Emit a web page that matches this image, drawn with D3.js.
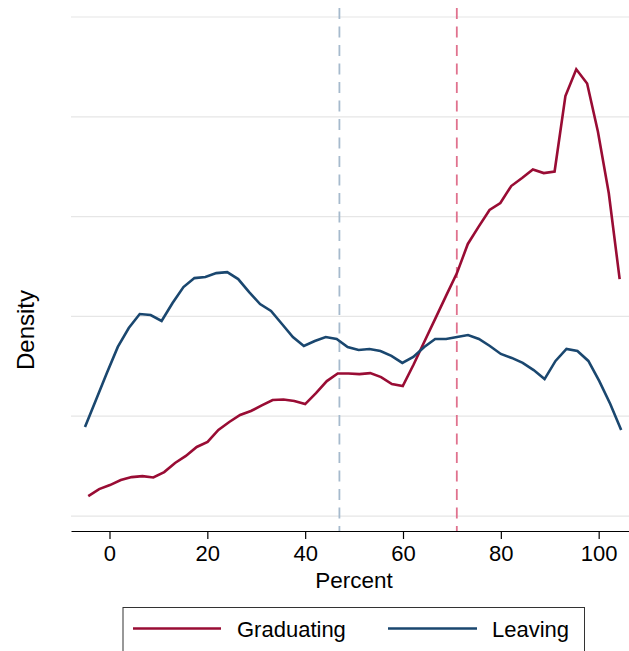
<!DOCTYPE html>
<html>
<head>
<meta charset="utf-8">
<script src="https://cdn.jsdelivr.net/npm/d3@7"></script>
<style>
  html, body { margin: 0; padding: 0; background: #fff; }
  svg { display: block; font-family: "Liberation Sans", Arial, Helvetica, sans-serif; }
</style>
</head>
<body>
<svg id="chart" width="629" height="651"></svg>
<script>
// ---- Data ----
const seriesNames = ["Graduating", "Leaving"];

const percentGraduating = [-4.34, -2.12, 0.09, 2.31, 4.53, 6.74, 8.96, 11.18, 13.40, 15.61,
  17.83, 20.05, 22.26, 24.48, 26.70, 28.91, 31.13, 33.35, 35.56, 37.78,
  40.00, 42.21, 44.43, 46.65, 48.87, 51.08, 53.30, 55.52, 57.73, 59.95,
  62.17, 64.38, 66.60, 68.82, 71.03, 73.25, 75.47, 77.69, 79.90, 82.12,
  84.34, 86.55, 88.77, 90.99, 93.20, 95.42, 97.64, 99.85, 102.07, 104.29];
const densityGraduating = [0.00100, 0.00135, 0.00155, 0.00180, 0.00195, 0.00200, 0.00193, 0.00220, 0.00266, 0.00301,
  0.00346, 0.00371, 0.00431, 0.00471, 0.00506, 0.00526, 0.00554, 0.00581, 0.00584, 0.00576,
  0.00561, 0.00616, 0.00676, 0.00714, 0.00714, 0.00711, 0.00716, 0.00696, 0.00661, 0.00651,
  0.00759, 0.00874, 0.00989, 0.01104, 0.01217, 0.01363, 0.01450, 0.01533, 0.01568, 0.01653,
  0.01693, 0.01736, 0.01718, 0.01726, 0.02104, 0.02238, 0.02167, 0.01925, 0.01617, 0.01187];

const percentLeaving = [-5.01, -2.77, -0.54, 1.70, 3.94, 6.18, 8.41, 10.65, 12.89, 15.12,
  17.36, 19.60, 21.83, 24.07, 26.31, 28.55, 30.78, 33.02, 35.26, 37.49,
  39.73, 41.97, 44.20, 46.44, 48.68, 50.92, 53.15, 55.39, 57.63, 59.86,
  62.10, 64.34, 66.57, 68.81, 71.05, 73.29, 75.52, 77.76, 80.00, 82.23,
  84.47, 86.71, 88.94, 91.18, 93.42, 95.66, 97.89, 100.13, 102.37, 104.60];
const densityLeaving = [0.00446, 0.00581, 0.00716, 0.00847, 0.00942, 0.01012, 0.01007, 0.00977, 0.01067, 0.01147,
  0.01192, 0.01197, 0.01217, 0.01222, 0.01187, 0.01122, 0.01062, 0.01027, 0.00962, 0.00897,
  0.00852, 0.00877, 0.00897, 0.00887, 0.00847, 0.00832, 0.00837, 0.00827, 0.00802, 0.00767,
  0.00797, 0.00847, 0.00887, 0.00887, 0.00897, 0.00907, 0.00887, 0.00852, 0.00812, 0.00792,
  0.00767, 0.00731, 0.00686, 0.00777, 0.00837, 0.00827, 0.00777, 0.00676, 0.00561, 0.00431];

// Reference lines (means)
const meanLeaving = 47.0;
const meanGraduating = 71.0;

const xTicks = [0, 20, 40, 60, 80, 100];
const yGridValues = [0, 0.005, 0.01, 0.015, 0.02, 0.025];

const xLabel = "Percent";
const yLabel = "Density";

// ---- Layout ----
const colors = { Graduating: "#990c34", Leaving: "#1a476f" };
const refColors = { Graduating: "#e0728e", Leaving: "#a6bacd" };

const svg = d3.select("#chart");
const plotLeft = 71, plotRight = 629, plotTop = 8, plotBottom = 531;

const x = d3.scaleLinear().domain([-7.87, 106.2]).range([plotLeft, plotRight]);
const y = d3.scaleLinear().domain([-0.00075, 0.02545]).range([plotBottom, plotTop]);

// gridlines
svg.append("g").selectAll("line").data(yGridValues).join("line")
  .attr("x1", plotLeft).attr("x2", plotRight)
  .attr("y1", d => y(d)).attr("y2", d => y(d))
  .attr("stroke", "#e6e6e6").attr("stroke-width", 1.2);

// reference lines
const refs = [
  { name: "Leaving", value: meanLeaving },
  { name: "Graduating", value: meanGraduating }
];
svg.append("g").selectAll("line").data(refs).join("line")
  .attr("x1", d => x(d.value)).attr("x2", d => x(d.value))
  .attr("y1", plotTop).attr("y2", plotBottom)
  .attr("stroke", d => refColors[d.name])
  .attr("stroke-width", 1.8)
  .attr("stroke-dasharray", "11,7.5");

// lines
const line = d3.line().x(d => x(d[0])).y(d => y(d[1]));
const seriesData = [
  { name: "Graduating", pts: d3.zip(percentGraduating, densityGraduating) },
  { name: "Leaving", pts: d3.zip(percentLeaving, densityLeaving) }
];
svg.append("g").selectAll("path").data(seriesData).join("path")
  .attr("d", d => line(d.pts))
  .attr("fill", "none")
  .attr("stroke", d => colors[d.name])
  .attr("stroke-width", 2.6)
  .attr("stroke-linejoin", "miter")
  .attr("stroke-linecap", "butt");

// x axis
const xAxis = d3.axisBottom(x).tickValues(xTicks).tickSizeInner(8).tickSizeOuter(0).tickPadding(6);
const gx = svg.append("g").attr("transform", `translate(0,${plotBottom})`).call(xAxis);
gx.select(".domain").attr("stroke", "#000").attr("stroke-width", 1.2);
gx.selectAll(".tick line").attr("stroke", "#000").attr("stroke-width", 1.2);
gx.selectAll(".tick text").attr("font-size", 22).attr("fill", "#000")
  .attr("font-family", "Liberation Sans, Arial, sans-serif");

svg.append("text")
  .attr("x", x(50)).attr("y", 587.5)
  .attr("text-anchor", "middle").attr("font-size", 22.5).attr("fill", "#000")
  .text(xLabel);

svg.append("text")
  .attr("transform", `translate(34,330) rotate(-90)`)
  .attr("text-anchor", "middle").attr("font-size", 24).attr("fill", "#000")
  .text(yLabel);

// legend
const lg = svg.append("g");
lg.append("rect").attr("x", 123).attr("y", 607.5).attr("width", 461.5).attr("height", 60)
  .attr("fill", "#fff").attr("stroke", "#333").attr("stroke-width", 1);
const legendItems = [
  { name: seriesNames[0], x0: 133, x1: 221, tx: 237 },
  { name: seriesNames[1], x0: 388, x1: 477, tx: 492 }
];
legendItems.forEach(it => {
  lg.append("line").attr("x1", it.x0).attr("x2", it.x1).attr("y1", 628.5).attr("y2", 628.5)
    .attr("stroke", colors[it.name]).attr("stroke-width", 2.6);
  lg.append("text").attr("x", it.tx).attr("y", 636.5).attr("font-size", 22).attr("fill", "#000")
    .text(it.name);
});
</script>
</body>
</html>
